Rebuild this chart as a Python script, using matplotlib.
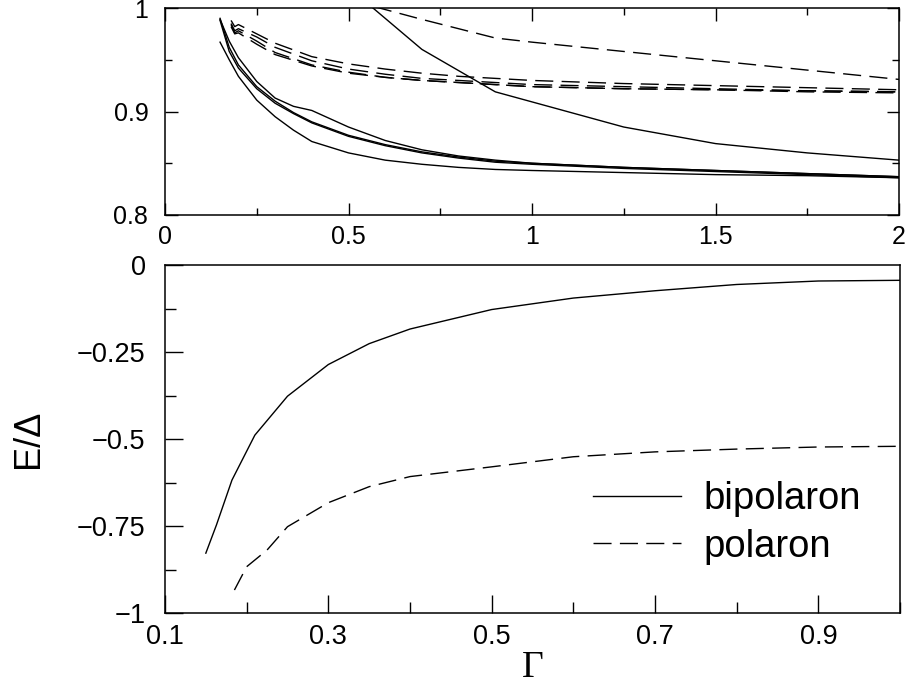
import numpy as np
import matplotlib.pyplot as plt
from matplotlib.ticker import MultipleLocator

plt.rcParams['font.family'] = ['Liberation Sans', 'DejaVu Sans']

# top panel data
x_top = [0.15, 0.175, 0.2, 0.25, 0.3, 0.35, 0.4, 0.5, 0.6, 0.7, 0.8, 0.9, 1.0, 1.25, 1.5, 1.75, 2.0]
solid_low = [0.967, 0.950, 0.934, 0.911, 0.895, 0.882, 0.871, 0.860, 0.853, 0.849, 0.846, 0.844, 0.843, 0.841, 0.839, 0.838, 0.836]
solid_kink = [0.989, 0.968, 0.952, 0.929, 0.913, 0.905, 0.901, 0.885, 0.872, 0.863, 0.857, 0.853, 0.850, 0.846, 0.843, 0.840, 0.837]
solid_mid1 = [0.990, 0.962, 0.945, 0.924, 0.910, 0.899, 0.890, 0.877, 0.868, 0.861, 0.856, 0.852, 0.850, 0.846, 0.843, 0.840, 0.837]
solid_mid2 = [0.988, 0.958, 0.942, 0.922, 0.908, 0.898, 0.889, 0.876, 0.867, 0.860, 0.855, 0.851, 0.849, 0.845, 0.842, 0.839, 0.836]

x_long = [0.5, 0.7, 0.9, 1.25, 1.5, 1.75, 2.0]
solid_long = [1.02, 0.96, 0.919, 0.885, 0.869, 0.860, 0.853]

x_dlong = [0.5, 0.7, 0.9, 1.0, 1.25, 1.5, 1.75, 2.0]
dash_long = [1.008, 0.989, 0.971, 0.967, 0.958, 0.949, 0.940, 0.931]

x_dash = [0.18, 0.19, 0.2, 0.25, 0.3, 0.4, 0.5, 0.6, 0.7, 0.8, 0.9, 1.0, 1.25, 1.5, 1.75, 2.0]
dash1 = [0.988, 0.982, 0.984, 0.975, 0.966, 0.953, 0.946, 0.941, 0.937, 0.934, 0.932, 0.930, 0.927, 0.925, 0.923, 0.921]
dash2 = [0.985, 0.978, 0.980, 0.972, 0.962, 0.949, 0.941, 0.936, 0.932, 0.930, 0.928, 0.926, 0.924, 0.922, 0.920, 0.919]
dash3 = [0.982, 0.975, 0.976, 0.965, 0.955, 0.944, 0.937, 0.933, 0.930, 0.928, 0.926, 0.924, 0.922, 0.921, 0.920, 0.919]
dash4 = [0.984, 0.976, 0.978, 0.968, 0.957, 0.945, 0.938, 0.933, 0.930, 0.928, 0.926, 0.924, 0.922, 0.921, 0.919, 0.918]

# bottom panel data
x_bi = [0.15, 0.163, 0.182, 0.21, 0.25, 0.3, 0.35, 0.4, 0.5, 0.6, 0.7, 0.8, 0.9, 1.0]
e_bi = [-0.828, -0.747, -0.618, -0.489, -0.377, -0.286, -0.226, -0.184, -0.128, -0.095, -0.074, -0.056, -0.046, -0.044]
x_po = [0.185, 0.2, 0.225, 0.25, 0.3, 0.35, 0.4, 0.5, 0.6, 0.7, 0.8, 0.9, 1.0]
e_po = [-0.934, -0.867, -0.819, -0.752, -0.683, -0.637, -0.608, -0.580, -0.551, -0.537, -0.529, -0.523, -0.521]

lw = 1.0
dash = (0, (13, 6))

fig = plt.figure(figsize=(9.1, 6.92), dpi=100)
ax1 = fig.add_axes([165/910, 1-215/692, 734/910, 207/692])
ax2 = fig.add_axes([165/910, 1-613/692, 735/910, 348/692])

for y in [solid_low, solid_kink, solid_mid1, solid_mid2]:
    ax1.plot(x_top, y, 'k-', lw=lw)
ax1.plot(x_long, solid_long, 'k-', lw=lw)
ax1.plot(x_dlong, dash_long, color='k', ls=dash, lw=lw)
for y in [dash1, dash2, dash3, dash4]:
    ax1.plot(x_dash, y, color='k', ls=dash, lw=lw)

ax1.set_xlim(0, 2)
ax1.set_ylim(0.8, 1)
ax1.set_xticks([0, 0.5, 1, 1.5, 2])
ax1.set_xticklabels(['0', '0.5', '1', '1.5', '2'])
ax1.xaxis.set_minor_locator(MultipleLocator(0.25))
ax1.set_yticks([0.8, 0.9, 1])
ax1.set_yticklabels(['0.8', '0.9', '1'])
ax1.yaxis.set_minor_locator(MultipleLocator(0.05))
ax1.tick_params(which='both', direction='in', top=True, right=True, labelsize=18, width=1)
ax1.tick_params(which='major', length=9)
ax1.tick_params(which='minor', length=5)
ax1.tick_params(axis='x', which='major', pad=7)
ax1.tick_params(axis='y', which='major', pad=12)

ax2.plot(x_bi, e_bi, 'k-', lw=lw, label='bipolaron')
ax2.plot(x_po, e_po, color='k', ls=dash, lw=lw, label='polaron')
ax2.set_xlim(0.1, 1.0)
ax2.set_ylim(-1, 0)
ax2.set_xticks([0.1, 0.3, 0.5, 0.7, 0.9])
ax2.set_xticklabels(['0.1', '0.3', '0.5', '0.7', '0.9'])
ax2.xaxis.set_minor_locator(MultipleLocator(0.1))
ax2.set_yticks([0, -0.25, -0.5, -0.75, -1])
ax2.set_yticklabels(['0', '\u22120.25', '\u22120.5', '\u22120.75', '\u22121'])
ax2.yaxis.set_minor_locator(MultipleLocator(0.125))
ax2.tick_params(which='both', direction='in', labelsize=19.5, width=1)
ax2.tick_params(which='major', length=13)
ax2.tick_params(which='minor', length=8)
ax2.tick_params(axis='x', which='major', pad=8)
ax2.tick_params(axis='y', which='major', pad=14)
ax2.set_xlabel('\u0393', family='Liberation Serif', fontsize=27, labelpad=0)
ax2.set_ylabel('E/\u0394', fontsize=26, labelpad=22)
ax2.legend(loc='lower right', bbox_to_anchor=(0.994, 0.04), frameon=False, fontsize=27.5,
           handlelength=2.3, handletextpad=0.6, labelspacing=0.3)

for ax in (ax1, ax2):
    for s in ax.spines.values():
        s.set_linewidth(1.1)

plt.savefig('out.png', dpi=100)
